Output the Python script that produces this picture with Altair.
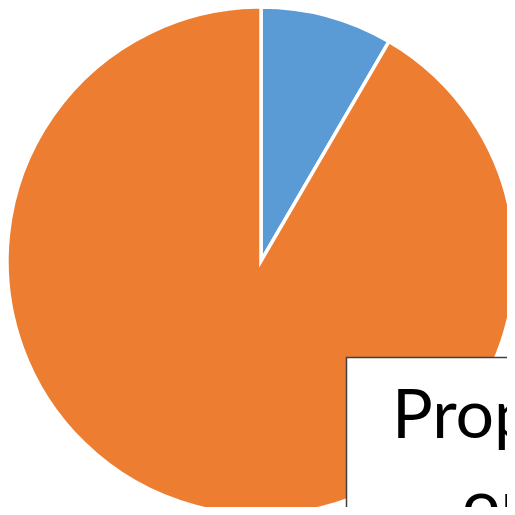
import altair as alt
import pandas as pd

categories = ["Blue", "Orange"]
values = [8.4, 91.6]
colors = ["#5B9BD5", "#ED7D31"]
order = [1, 2]

line1 = "Proportion"
line2 = "orange"

df = pd.DataFrame({"category": categories, "value": values, "order": order})

pie = alt.Chart(df).mark_arc(radius=254, stroke="white", strokeWidth=3.5).encode(
    theta=alt.Theta("value:Q", stack=True),
    order=alt.Order("order:Q"),
    color=alt.Color("category:N", scale=alt.Scale(domain=categories, range=colors), legend=None),
    x=alt.value(253),
    y=alt.value(253),
)

box = alt.Chart(pd.DataFrame({"a": [0]})).mark_rect(
    fill="white", stroke="#404040", strokeWidth=1.5
).encode(
    x=alt.value(338.5), x2=alt.value(640), y=alt.value(349.5), y2=alt.value(640)
)

t1 = alt.Chart(pd.DataFrame({"t": [line1]})).mark_text(
    font="Lato", fontSize=68, align="left", baseline="alphabetic", color="black"
).encode(x=alt.value(384), y=alt.value(430), text="t:N")

t2 = alt.Chart(pd.DataFrame({"t": [line2]})).mark_text(
    font="Lato", fontSize=68, align="left", baseline="alphabetic", color="black"
).encode(x=alt.value(454), y=alt.value(520), text="t:N")

chart = alt.layer(pie, box, t1, t2).properties(
    width=499, height=499, padding=0, autosize=alt.AutoSizeParams(type="none")
).configure_view(stroke=None)

chart.save("out.html", embed_options={"renderer": "svg", "actions": False})
